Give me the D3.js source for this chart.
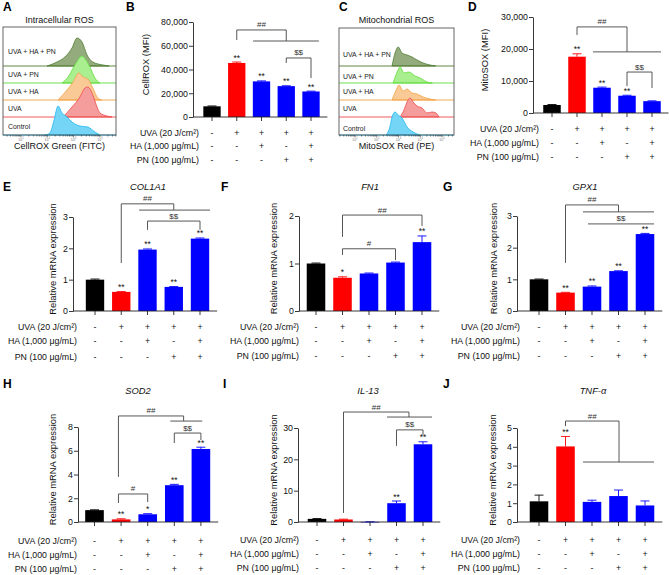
<!DOCTYPE html>
<html>
<head>
<meta charset="utf-8">
<script src="https://cdn.jsdelivr.net/npm/d3@7"></script>
<style>
  body { margin: 0; background: #fff; }
  svg { display: block; font-family: "Liberation Sans", Arial, Helvetica, sans-serif; }
</style>
</head>
<body>
<svg id="fig" width="669" height="575"></svg>
<script>
// ---------- shared treatment design ----------
const groups = ["Control", "UVA", "UVA+HA", "UVA+PN", "UVA+HA+PN"];
const barColors = ["#000000", "#ff0000", "#0000ff", "#0000ff", "#0000ff"];
const rowLabels = ["UVA (20 J/cm²)", "HA (1,000 μg/mL)", "PN (100 μg/mL)"];
const uvaRow = ["-", "+", "+", "+", "+"];
const haRow  = ["-", "-", "+", "-", "+"];
const pnRow  = ["-", "-", "-", "+", "+"];

// ---------- flow histograms (log10 fluorescence, event count) ----------
const histRows = ["UVA + HA + PN", "UVA + PN", "UVA + HA", "UVA", "Control"];
const histStroke = ["#4f7b30", "#5fdc3a", "#f3a244", "#ef4a4a", "#22b6ec"];
const histFill   = ["#93ab7d", "#a9ef90", "#f9ca96", "#f59d9d", "#74d5f6"];

const cellroxHist = [
  [[2.99,0],[3.37,4],[3.67,9],[3.94,18],[4.13,28],[4.32,24],[4.51,11],[4.73,4],[5.11,1],[5.35,0]],
  [[3.56,0],[3.79,6],[4.05,18],[4.32,27],[4.47,23],[4.62,16],[4.81,5],[5.0,0]],
  [[3.41,0],[3.75,10],[3.98,18],[4.2,27],[4.36,23],[4.54,21],[4.73,12],[4.92,2],[5.07,0]],
  [[3.6,0],[3.94,10],[4.24,20],[4.43,29],[4.54,30],[4.73,22],[4.89,10],[5.0,4],[5.27,1],[5.46,0]],
  [[2.91,0],[3.1,2],[3.25,14],[3.41,29],[3.56,22],[3.75,18],[3.94,13],[4.24,9],[4.54,8],[4.81,3],[5.0,0]]
];
const mitosoxHist = [
  [[2.7,0],[2.84,13],[2.98,19],[3.16,13],[3.39,11],[3.62,9],[3.85,6],[4.13,3],[4.45,1],[4.7,0]],
  [[2.75,0],[2.98,13],[3.07,16],[3.25,10],[3.48,11],[3.76,7],[3.99,5],[4.31,1],[4.55,0]],
  [[2.7,0],[2.89,10],[3.02,15],[3.21,9],[3.39,11],[3.62,7],[3.85,6],[4.13,3],[4.45,1],[4.7,0]],
  [[3.07,0],[3.25,7],[3.39,15],[3.53,19],[3.67,15],[3.85,11],[4.08,9],[4.31,4],[4.54,5],[4.72,4],[4.86,0]],
  [[2.43,0],[2.6,8],[2.7,18],[2.84,23],[2.98,20],[3.16,17],[3.39,8],[3.67,3],[3.99,0]]
];

// ---------- bar data (mean, SD, significance) ----------
const cellroxMean = [9000, 45500, 30000, 26000, 21500];
const cellroxErr  = [300, 800, 400, 300, 300];
const cellroxStars = ["", "**", "**", "**", "**"];

const mitosoxMean = [2500, 17600, 7900, 5400, 3700];
const mitosoxErr  = [150, 900, 200, 150, 100];
const mitosoxStars = ["", "**", "**", "**", ""];

const col1a1Mean = [1.0, 0.61, 1.96, 0.77, 2.31];
const col1a1Err  = [0.02, 0.01, 0.02, 0.01, 0.02];
const col1a1Stars = ["", "**", "**", "**", "**"];

const fn1Mean = [1.0, 0.70, 0.79, 1.02, 1.45];
const fn1Err  = [0.01, 0.02, 0.01, 0.01, 0.13];
const fn1Stars = ["", "*", "", "", "**"];

const gpx1Mean = [1.0, 0.58, 0.77, 1.26, 2.43];
const gpx1Err  = [0.01, 0.01, 0.02, 0.01, 0.02];
const gpx1Stars = ["", "**", "**", "**", "**"];

const sod2Mean = [1.0, 0.22, 0.65, 3.1, 6.15];
const sod2Err  = [0.03, 0.05, 0.05, 0.07, 0.15];
const sod2Stars = ["", "**", "*", "**", "**"];

const il13Mean = [1.0, 0.8, 0.05, 6.0, 24.8];
const il13Err  = [0.1, 0.1, 0.02, 0.7, 0.8];
const il13Stars = ["", "", "", "**", "**"];

const tnfMean = [1.1, 4.02, 1.07, 1.38, 0.88];
const tnfErr  = [0.33, 0.53, 0.09, 0.32, 0.24];
const tnfStars = ["", "**", "", "", ""];

// comparison brackets: [group index, value] vertices
const cellroxBrackets = [
  { pts: [[1, 64800], [1, 73300], [3, 73300], [3, 64000]], label: "##" },
  { pts: [[1.66, 64000], [4.32, 64000]] },
  { pts: [[3, 45500], [3, 49700], [4, 49700], [4, 32800]], label: "$$" }
];
const mitosoxBrackets = [
  { pts: [[1, 24400], [1, 26900], [3, 26900], [3, 19100]], label: "##" },
  { pts: [[1.64, 19100], [4.36, 19100]] },
  { pts: [[3, 8400], [3, 12800], [4, 12800], [4, 7800]], label: "$$" }
];
const col1a1Brackets = [
  { pts: [[1, 1.53], [1, 3.42], [3, 3.42], [3, 3.22]], label: "##" },
  { pts: [[1.68, 3.22], [4.38, 3.22]] },
  { pts: [[2, 2.59], [2, 2.87], [4, 2.87], [4, 2.59]], label: "$$" }
];
const fn1Brackets = [
  { pts: [[1, 1.56], [1, 2.02], [4, 2.02], [4, 1.79]], label: "##" },
  { pts: [[1, 1.18], [1, 1.31], [3, 1.31], [3, 1.07]], label: "#" }
];
const gpx1Brackets = [
  { pts: [[1, 1.52], [1, 3.35], [3, 3.35], [3, 3.13]], label: "##" },
  { pts: [[1.66, 3.13], [4.34, 3.13]] },
  { pts: [[1.85, 2.75], [4.34, 2.75]], label: "$$", seg: 0 }
];
const sod2Brackets = [
  { pts: [[0.9, 3.8], [0.9, 8.93], [3.35, 8.93], [3.35, 8.5]], label: "##" },
  { pts: [[2.85, 8.5], [4.05, 8.5]] },
  { pts: [[3, 6.65], [3, 7.49], [4, 7.49], [4, 6.9]], label: "$$" },
  { pts: [[0.9, 1.6], [0.9, 2.36], [2, 2.36], [2, 1.68]], label: "#" }
];
const il13Brackets = [
  { pts: [[1, 2.9], [1, 35.1], [3.47, 35.1], [3.47, 33.5]], label: "##" },
  { pts: [[2.64, 33.5], [4.34, 33.5]] },
  { pts: [[3, 24.3], [3, 29.4], [4, 29.4], [4, 27.8]], label: "$$" }
];
const tnfBrackets = [
  { pts: [[1, 5.1], [1, 5.37], [3.02, 5.37], [3.02, 3.19]], label: "##" },
  { pts: [[1.66, 3.19], [4.34, 3.19]] }
];

// ---------- drawing ----------
const svg = d3.select("#fig");
const FONT = 8.8;

function drawHist(p) {
  const g = svg.append("g");
  const x = d3.scaleLinear().domain(p.expDomain).range([p.x0, p.x1]);
  const h = d3.scaleLinear().domain([0, 30]).range([0, 30]);

  p.series.forEach((pts, i) => {
    const base = p.baselines[i];
    const area = d3.area()
      .x(d => x(d[0]))
      .y0(base)
      .y1(d => base - h(d[1]))
      .curve(d3.curveMonotoneX);
    g.append("path")
      .attr("d", area(pts))
      .attr("fill", histFill[i])
      .attr("stroke", histStroke[i])
      .attr("stroke-width", 0.8);
    g.append("line")
      .attr("x1", p.x0).attr("x2", p.x1)
      .attr("y1", base).attr("y2", base)
      .attr("stroke", histStroke[i]).attr("stroke-width", 0.9);
    g.append("text")
      .attr("x", p.x0 + p.labelDx).attr("y", p.labelY[i])
      .attr("dominant-baseline", "central")
      .attr("font-size", 6.9).attr("fill", "#222")
      .text(histRows[i]);
  });

  g.append("rect")
    .attr("x", p.x0).attr("y", p.y0)
    .attr("width", p.x1 - p.x0).attr("height", p.y1 - p.y0)
    .attr("fill", "none").attr("stroke", "#555").attr("stroke-width", 0.9);

  // log axis: decades plus minor ticks
  const minor = [];
  for (let e = Math.floor(p.expDomain[0]); e <= Math.ceil(p.expDomain[1]); e++) {
    for (let k = 1; k <= 9; k++) {
      const v = e + Math.log10(k);
      if (v >= p.expDomain[0] && v <= p.expDomain[1]) minor.push({ v, major: k === 1 });
    }
  }
  g.selectAll(".mt").data(minor).join("line")
    .attr("x1", d => x(d.v)).attr("x2", d => x(d.v))
    .attr("y1", p.y1).attr("y2", d => p.y1 + (d.major ? 2.5 : 1.5))
    .attr("stroke", "#333").attr("stroke-width", 0.6);

  const lbl = g.selectAll(".dl").data(p.decades).join("text")
    .attr("x", d => x(d)).attr("y", p.y1 + 5.5)
    .attr("text-anchor", "middle").attr("font-size", 3.6).attr("fill", "#777");
  lbl.append("tspan").text("10");
  lbl.append("tspan").attr("dy", -1.5).attr("font-size", 2.6).text(d => d);

  g.append("text")
    .attr("x", (p.x0 + p.x1) / 2).attr("y", p.y1 + 13.5)
    .attr("text-anchor", "middle").attr("font-size", 9).attr("fill", "#111")
    .text(p.xlabel);
  g.append("text")
    .attr("x", (p.x0 + p.x1) / 2).attr("y", 23)
    .attr("text-anchor", "middle").attr("font-size", 9).attr("fill", "#111")
    .text(p.title);
}

function drawBars(p) {
  const g = svg.append("g");
  const x = d3.scaleBand()
    .domain(d3.range(groups.length))
    .range([p.c0 - p.step / 2, p.c0 + p.step * (groups.length - 0.5)])
    .paddingInner(0.3).paddingOuter(0.15);
  const cx = i => x(0) + x.bandwidth() / 2 + i * x.step();
  const y = d3.scaleLinear().domain([0, d3.max(p.ticks)]).range([p.base, p.top]);
  const end = cx(groups.length - 1) + x.step() / 2 + 4;

  // bars
  g.selectAll(".bar").data(p.mean).join("rect")
    .attr("x", (d, i) => x(i))
    .attr("y", d => y(d))
    .attr("width", x.bandwidth())
    .attr("height", d => Math.max(0.6, p.base - y(d)))
    .attr("fill", (d, i) => barColors[i]);

  // error bars (upper half)
  p.mean.forEach((m, i) => {
    const top = y(m + p.err[i]);
    g.append("line").attr("x1", cx(i)).attr("x2", cx(i))
      .attr("y1", y(m)).attr("y2", top).attr("stroke", barColors[i]).attr("stroke-width", 0.9);
    g.append("line").attr("x1", cx(i) - 4.5).attr("x2", cx(i) + 4.5)
      .attr("y1", top).attr("y2", top).attr("stroke", barColors[i]).attr("stroke-width", 0.9);
    if (p.stars[i]) {
      g.append("text").attr("x", cx(i)).attr("y", top - 1.5)
        .attr("text-anchor", "middle").attr("font-size", 8.5).attr("fill", "#111")
        .text(p.stars[i]);
    }
  });

  // y axis
  g.append("g")
    .attr("transform", `translate(${p.ax},0)`)
    .call(d3.axisLeft(y).tickValues(p.ticks).tickSize(4).tickSizeOuter(0).tickFormat(p.fmt || d3.format("d")))
    .call(a => a.select(".domain").attr("stroke", "#222").attr("stroke-width", 0.9))
    .call(a => a.selectAll(".tick line").attr("stroke", "#222").attr("stroke-width", 0.9))
    .call(a => a.selectAll(".tick text").attr("font-size", FONT).attr("fill", "#111")
      .attr("font-family", "'Liberation Sans', Arial, sans-serif").attr("x", -5));

  // baseline + category ticks
  g.append("line").attr("x1", p.ax).attr("x2", end)
    .attr("y1", p.base).attr("y2", p.base).attr("stroke", "#222").attr("stroke-width", 0.9);
  g.selectAll(".xt").data(groups).join("line")
    .attr("x1", (d, i) => cx(i)).attr("x2", (d, i) => cx(i))
    .attr("y1", p.base).attr("y2", p.base + 4)
    .attr("stroke", "#222").attr("stroke-width", 0.9);

  // y label
  g.append("text")
    .attr("transform", `translate(${p.ylabX},${(p.top + p.base) / 2 - 5}) rotate(-90)`)
    .attr("text-anchor", "middle").attr("dominant-baseline", "central")
    .attr("font-size", 9.4).attr("fill", "#111")
    .text(p.ylab);

  // treatment table
  [uvaRow, haRow, pnRow].forEach((row, r) => {
    g.append("text")
      .attr("x", p.labelEnd).attr("y", p.rows[r])
      .attr("text-anchor", "end").attr("dominant-baseline", "central")
      .attr("font-size", FONT).attr("fill", "#111")
      .text(rowLabels[r]);
    g.selectAll(null).data(row).join("text")
      .attr("x", (d, i) => cx(i)).attr("y", p.rows[r])
      .attr("text-anchor", "middle").attr("dominant-baseline", "central")
      .attr("font-size", FONT).attr("fill", "#111")
      .text(d => d);
  });

  // significance brackets
  const line = d3.line().x(d => cx(d[0])).y(d => y(d[1]));
  p.brackets.forEach(b => {
    g.append("path").attr("d", line(b.pts))
      .attr("fill", "none").attr("stroke", "#444").attr("stroke-width", 0.9);
    if (b.label) {
      const s = b.seg === undefined ? 1 : b.seg;
      const a = b.pts[s], c = b.pts[s + 1];
      g.append("text")
        .attr("x", (cx(a[0]) + cx(c[0])) / 2).attr("y", y(a[1]) - 2.5)
        .attr("text-anchor", "middle").attr("font-size", 8).attr("fill", "#333")
        .text(b.label);
    }
  });

  if (p.title) {
    g.append("text").attr("x", p.titleX).attr("y", p.titleY)
      .attr("text-anchor", "middle").attr("font-size", 9.4).attr("font-style", "italic")
      .attr("fill", "#111").text(p.title);
  }
}

drawHist({
  x0: 3, x1: 116, y0: 27, y1: 135, expDomain: [1.32, 5.61], decades: [2, 3, 4, 5],
  baselines: [66, 83, 100, 117, 135], labelY: [51, 74, 91, 108, 126], labelDx: 5,
  series: cellroxHist, xlabel: "CellROX Green (FITC)", title: "Intracellular ROS"
});
drawHist({
  x0: 339, x1: 454, y0: 28, y1: 135, expDomain: [0.26, 5.55], decades: [1, 2, 3, 4, 5],
  baselines: [66, 83, 100, 117, 135], labelY: [54, 76, 91, 108, 128], labelDx: 4,
  series: mitosoxHist, xlabel: "MitoSOX Red (PE)", title: "Mitochondrial ROS"
});

drawBars({ ax: 193, base: 117, top: 22, c0: 212, step: 24.75, labelEnd: 199, rows: [133, 146, 160],
  ylabX: 145, ylab: "CellROX (MFI)", ticks: [0, 20000, 40000, 60000, 80000], fmt: d3.format(","),
  mean: cellroxMean, err: cellroxErr, stars: cellroxStars, brackets: cellroxBrackets });
drawBars({ ax: 533, base: 113, top: 17, c0: 552, step: 25, labelEnd: 539, rows: [129, 143, 157],
  ylabX: 484, ylab: "MitoSOX (MFI)", ticks: [0, 10000, 20000, 30000], fmt: d3.format(","),
  mean: mitosoxMean, err: mitosoxErr, stars: mitosoxStars, brackets: mitosoxBrackets });

drawBars({ ax: 73, base: 311, top: 217, c0: 95, step: 26.25, labelEnd: 77, rows: [327, 341, 357],
  ylabX: 52, ylab: "Relative mRNA expression", ticks: [0, 1, 2, 3],
  mean: col1a1Mean, err: col1a1Err, stars: col1a1Stars, brackets: col1a1Brackets,
  title: "COL1A1", titleX: 148, titleY: 190 });
drawBars({ ax: 299, base: 311, top: 216, c0: 316, step: 26.5, labelEnd: 299, rows: [327, 341, 356],
  ylabX: 273, ylab: "Relative mRNA expression", ticks: [0, 1, 2],
  mean: fn1Mean, err: fn1Err, stars: fn1Stars, brackets: fn1Brackets,
  title: "FN1", titleX: 370, titleY: 190 });
drawBars({ ax: 517, base: 311, top: 216, c0: 539, step: 26.5, labelEnd: 520, rows: [327, 341, 356],
  ylabX: 493, ylab: "Relative mRNA expression", ticks: [0, 1, 2, 3],
  mean: gpx1Mean, err: gpx1Err, stars: gpx1Stars, brackets: gpx1Brackets,
  title: "GPX1", titleX: 585, titleY: 190 });

drawBars({ ax: 78, base: 522, top: 427, c0: 94.5, step: 26.6, labelEnd: 77, rows: [541, 555, 569],
  ylabX: 52, ylab: "Relative mRNA expression", ticks: [0, 2, 4, 6, 8],
  mean: sod2Mean, err: sod2Err, stars: sod2Stars, brackets: sod2Brackets,
  title: "SOD2", titleX: 138, titleY: 394 });
drawBars({ ax: 298, base: 522, top: 428, c0: 317, step: 26.5, labelEnd: 299, rows: [540, 554, 568],
  ylabX: 273, ylab: "Relative mRNA expression", ticks: [0, 10, 20, 30],
  mean: il13Mean, err: il13Err, stars: il13Stars, brackets: il13Brackets,
  title: "IL-13", titleX: 368, titleY: 394 });
drawBars({ ax: 517, base: 522, top: 428, c0: 539, step: 26.5, labelEnd: 520, rows: [540, 554, 568],
  ylabX: 492, ylab: "Relative mRNA expression", ticks: [0, 1, 2, 3, 4, 5],
  mean: tnfMean, err: tnfErr, stars: tnfStars, brackets: tnfBrackets,
  title: "TNF-α", titleX: 593, titleY: 394 });

// panel letters
const letters = [["A", 3, 11], ["B", 126, 11], ["C", 339, 11], ["D", 468, 11],
                 ["E", 3, 191], ["F", 221, 191], ["G", 443, 191],
                 ["H", 3, 388], ["I", 223, 388], ["J", 443, 388]];
svg.selectAll(".letter").data(letters).join("text")
  .attr("x", d => d[1]).attr("y", d => d[2])
  .attr("font-size", 12).attr("font-weight", "bold").attr("fill", "#000")
  .text(d => d[0]);
</script>
</body>
</html>
